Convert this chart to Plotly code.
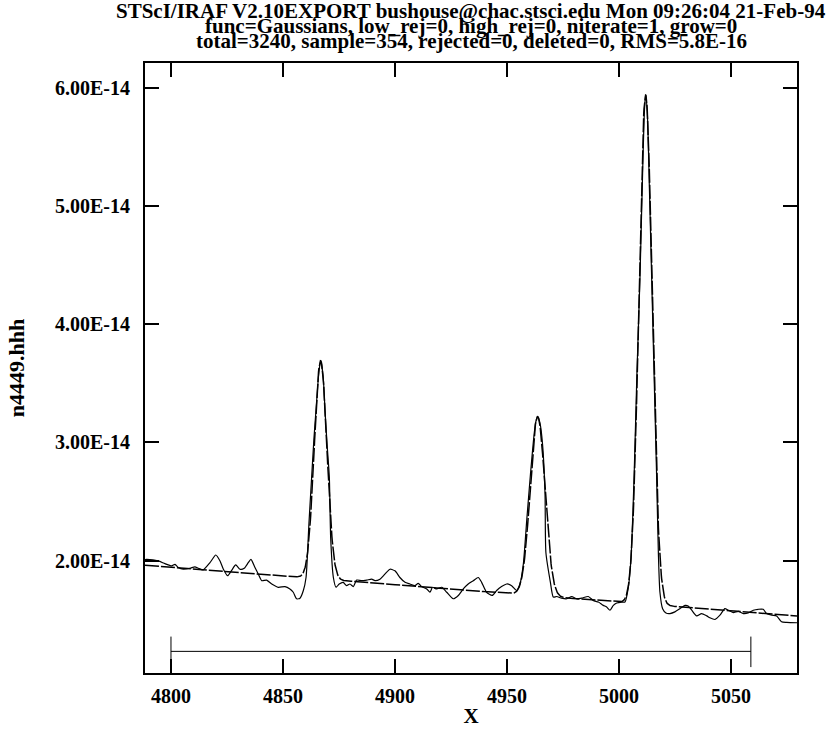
import numpy as np
import plotly.graph_objects as go

# ---------------- data (flux in units of 1e-14) ----------------
wavelength = [
    4788.4, 4789.2, 4794.3, 4797.3, 4800.3, 4801.8, 4803.3, 4805.5, 4808.5, 4810.7,
    4812.2, 4814.4, 4817.4, 4820.0, 4821.9, 4823.4, 4825.3, 4827.1, 4828.9, 4830.8,
    4832.7, 4834.5, 4835.7, 4837.5, 4839.0, 4840.5, 4842.7, 4845.0, 4847.9, 4850.9,
    4853.1, 4854.6, 4856.1, 4857.6, 4859.1, 4860.3, 4861.6, 4862.8, 4863.8, 4864.7,
    4865.9, 4866.8, 4867.9, 4868.8, 4869.7, 4870.7, 4871.3, 4872.5, 4873.7, 4875.1,
    4876.9, 4878.4, 4879.9, 4881.4, 4882.9, 4885.1, 4887.4, 4889.6, 4891.1, 4893.3,
    4895.5, 4897.8, 4900.0, 4902.2, 4904.5, 4906.7, 4908.9, 4910.4, 4911.9, 4914.2,
    4915.6, 4916.8, 4918.6, 4920.9, 4923.1, 4926.0, 4928.3, 4930.5, 4932.7, 4935.0,
    4937.2, 4938.7, 4940.9, 4943.4, 4945.4, 4947.6, 4949.9, 4952.1, 4954.3, 4955.8,
    4957.3, 4958.9, 4960.5, 4961.8, 4962.8, 4963.7, 4964.7, 4965.9, 4967.0, 4967.4,
    4969.4, 4970.7, 4972.2, 4974.4, 4976.7, 4978.9, 4981.1, 4983.4, 4986.3, 4988.5,
    4990.8, 4993.0, 4994.5, 4996.0, 4997.5, 4999.0, 5001.2, 5002.7, 5004.2, 5005.4,
    5006.8, 5008.0, 5009.4, 5010.5, 5011.3, 5011.9, 5012.7, 5013.6, 5014.6, 5015.7,
    5016.8, 5017.6, 5018.3, 5019.5, 5021.0, 5022.8, 5025.0, 5027.2, 5029.5, 5030.9,
    5032.5, 5034.7, 5036.9, 5039.2, 5040.6, 5042.9, 5045.1, 5047.3, 5048.8, 5051.0,
    5053.3, 5055.5, 5057.7, 5060.0, 5062.2, 5064.4, 5065.9, 5068.2, 5070.4, 5072.6,
    5074.9, 5079.5,
]
flux = [
    2.010, 2.011, 1.998, 1.975, 1.956, 1.969, 1.942, 1.928, 1.936, 1.948,
    1.936, 1.923, 1.983, 2.048, 1.998, 1.928, 1.873, 1.919, 1.964, 1.928,
    1.936, 1.983, 2.011, 1.942, 1.886, 1.831, 1.836, 1.803, 1.775, 1.781,
    1.761, 1.733, 1.678, 1.683, 1.748, 1.858, 2.317, 2.706, 3.025, 3.261,
    3.567, 3.692, 3.567, 3.261, 2.983, 2.706, 2.192, 1.858, 1.775, 1.803,
    1.817, 1.789, 1.803, 1.781, 1.836, 1.831, 1.836, 1.844, 1.831, 1.844,
    1.886, 1.928, 1.914, 1.858, 1.817, 1.803, 1.789, 1.808, 1.781, 1.761,
    1.733, 1.775, 1.761, 1.775, 1.733, 1.678, 1.706, 1.761, 1.803, 1.831,
    1.858, 1.817, 1.733, 1.706, 1.748, 1.781, 1.803, 1.789, 1.748, 1.803,
    1.969, 2.358, 2.733, 3.008, 3.167, 3.219, 3.167, 2.983, 2.567, 2.067,
    1.817, 1.692, 1.697, 1.683, 1.678, 1.697, 1.678, 1.683, 1.697, 1.664,
    1.650, 1.622, 1.608, 1.581, 1.622, 1.642, 1.650, 1.650, 1.775, 2.025,
    2.733, 3.567, 4.400, 5.233, 5.775, 5.942, 5.775, 5.150, 4.400, 3.567,
    2.733, 2.067, 1.733, 1.594, 1.558, 1.553, 1.567, 1.594, 1.622, 1.617,
    1.581, 1.533, 1.553, 1.533, 1.517, 1.503, 1.539, 1.594, 1.581, 1.561,
    1.572, 1.553, 1.558, 1.581, 1.589, 1.589, 1.553, 1.539, 1.533, 1.483,
    1.478, 1.475,
]

# fitted model parameters (continuum + 3 Gaussians), flux units 1e-14
cont_ref_wl = 4800.0
cont_at_ref = 1.9446
cont_slope = -0.0014746
line_centers = [4866.8, 4963.7, 5011.9]
line_amps = [1.846, 1.516, 4.31]
line_sigmas = [2.8, 3.26, 2.95]

# sample region marker
sample_range = [4800.0, 5058.9]
sample_level = 1.233
sample_cap = [1.10, 1.358]

x_range = [4788.4, 5079.5]
y_range = [1.05, 6.21]
x_ticks = [4800, 4850, 4900, 4950, 5000, 5050]
y_ticks = [2, 3, 4, 5, 6]
y_ticklabels = ["2.00E-14", "3.00E-14", "4.00E-14", "5.00E-14", "6.00E-14"]

title_lines = [
    "STScI/IRAF V2.10EXPORT bushouse@chac.stsci.edu Mon 09:26:04 21-Feb-94",
    "func=Gaussians, low_rej=0, high_rej=0, niterate=1, grow=0",
    "total=3240, sample=354, rejected=0, deleted=0, RMS=5.8E-16",
]
x_title = "X"
y_title = "n4449.hhh"

SCALE = 1e-14

# ---------------- figure ----------------
fit_x = np.linspace(x_range[0], x_range[1], 2000)
fit_y = cont_at_ref + cont_slope * (fit_x - cont_ref_wl)
for c, a, s in zip(line_centers, line_amps, line_sigmas):
    fit_y = fit_y + a * np.exp(-0.5 * ((fit_x - c) / s) ** 2)

FONT = "Liberation Serif"
FIG_W, FIG_H = 830, 736
M_L, M_R, M_T, M_B = 145, 33, 63, 54

fig = go.Figure()
fig.add_trace(go.Scatter(
    x=wavelength, y=[v * SCALE for v in flux], mode="lines",
    line=dict(color="black", width=1.2, shape="spline", smoothing=0.6),
    showlegend=False))
fig.add_trace(go.Scatter(
    x=fit_x, y=fit_y * SCALE, mode="lines",
    line=dict(color="black", width=1.5, dash="14px,2px"), showlegend=False))
s0, s1 = sample_range
fig.add_trace(go.Scatter(
    x=[s0, s0, None, s0, s1, None, s1, s1],
    y=[sample_cap[0] * SCALE, sample_cap[1] * SCALE, None,
       sample_level * SCALE, sample_level * SCALE, None,
       sample_cap[0] * SCALE, sample_cap[1] * SCALE],
    mode="lines", line=dict(color="black", width=1), showlegend=False))

axis_common = dict(
    showline=True, linecolor="black", linewidth=2, mirror="allticks",
    ticks="inside", ticklen=14, tickwidth=2, tickcolor="black",
    showgrid=False, zeroline=False,
    tickfont=dict(family=FONT, size=20, color="black", weight="bold"),
)
fig.update_xaxes(range=x_range, tickvals=x_ticks, ticklabelstandoff=4,
                 title=dict(text=x_title, standoff=2,
                            font=dict(family=FONT, size=21, color="black", weight="bold")),
                 **axis_common)
fig.update_yaxes(range=[y_range[0] * SCALE, y_range[1] * SCALE],
                 tickvals=[v * SCALE for v in y_ticks], ticktext=y_ticklabels,
                 ticklabelstandoff=9,
                 title=dict(text=y_title, standoff=24,
                            font=dict(family=FONT, size=22, color="black", weight="bold")),
                 **axis_common)

title_y_px = [10, 25.5, 41]
plot_top, plot_bottom = M_T, FIG_H - M_B
for line, ypx in zip(title_lines, title_y_px):
    fig.add_annotation(
        text=line, xref="paper", yref="paper", x=0.5,
        y=(plot_bottom - ypx) / (plot_bottom - plot_top),
        xanchor="center", yanchor="middle", showarrow=False, borderpad=0,
        font=dict(family=FONT, size=21, color="black", weight="bold"))

fig.update_layout(
    width=FIG_W, height=FIG_H,
    margin=dict(l=M_L, r=M_R, t=M_T, b=M_B),
    paper_bgcolor="white", plot_bgcolor="white",
    showlegend=False,
)

page_js = (
    "document.documentElement.style.margin='0';"
    "document.body.style.margin='0';document.body.style.padding='0';"
)
fig.write_html(
    "out.html",
    config={"displayModeBar": False},
    post_script=page_js,
)
